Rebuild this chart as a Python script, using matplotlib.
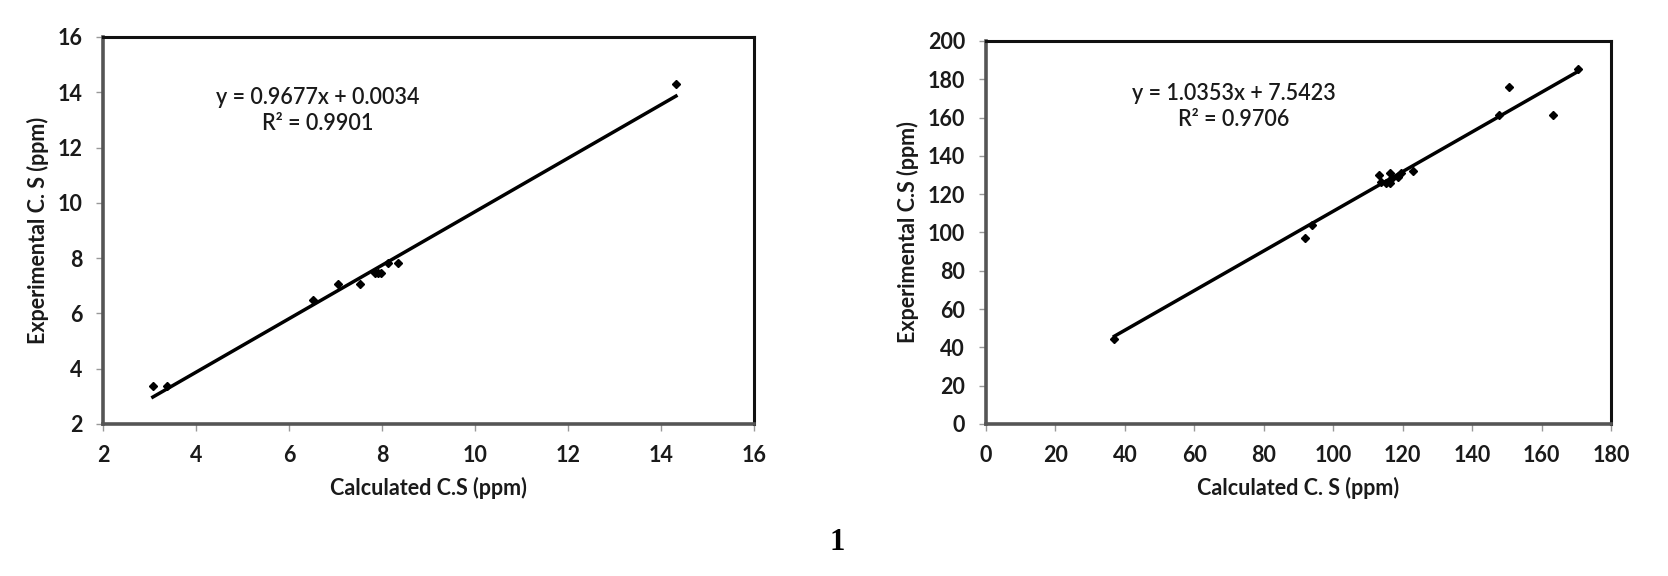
#!/usr/bin/env python3

import numpy as np
import matplotlib.pyplot as plt

# left panel: calculated vs experimental chemical shift
left_calc = [3.07, 3.37, 6.52, 7.05, 7.52, 7.84, 7.92, 7.98, 8.12, 8.35, 14.32]
left_exp = [3.38, 3.38, 6.49, 7.07, 7.07, 7.47, 7.47, 7.47, 7.81, 7.81, 14.31]
left_fit = (0.9677, 0.0034)
left_eq = "y = 0.9677x + 0.0034"
left_r2 = "R² = 0.9901"

# right panel
right_calc = [37.0, 91.8, 93.9, 113.2, 113.8, 115.3, 116.3, 116.5, 117.0,
              118.8, 119.6, 123.0, 147.8, 150.7, 163.4, 170.5]
right_exp = [44.5, 97.3, 104.0, 129.8, 126.3, 125.8, 131.3, 125.6, 128.5,
             129.2, 131.0, 132.3, 161.5, 176.0, 161.3, 185.3]
right_fit = (1.0353, 7.5423)
right_eq = "y = 1.0353x + 7.5423"
right_r2 = "R² = 0.9706"

plt.rcParams['font.family'] = ['Lato', 'DejaVu Sans']


def panel(ax, xs, ys, fit, eq, r2, xlim, ylim, step_x, step_y, xlabel, ylabel, txt_pos):
    xs = np.array(xs)
    ys = np.array(ys)
    line_x = np.array([xs.min(), xs.max()])
    ax.plot(line_x, fit[0] * line_x + fit[1], color='black', lw=2.5)
    ax.plot(xs, ys, 'D', color='black', ms=4.5, ls='none')
    ax.set_xlim(*xlim)
    ax.set_ylim(*ylim)
    ax.set_xticks(np.arange(xlim[0], xlim[1] + 0.1, step_x))
    ax.set_yticks(np.arange(ylim[0], ylim[1] + 0.1, step_y))
    ax.tick_params(direction='out', length=5, width=1, color='#999999',
                   labelsize=15.5, pad=10)
    for lab in ax.get_xticklabels() + ax.get_yticklabels():
        lab.set_fontweight('bold')
        lab.set_color('#1a1a1a')
    for side in ['top', 'right']:
        ax.spines[side].set_linewidth(2.2)
        ax.spines[side].set_color('#111111')
    for side in ['left', 'bottom']:
        ax.spines[side].set_linewidth(2.6)
        ax.spines[side].set_color('#555555')
    ax.set_xlabel(xlabel, fontsize=15.5, fontweight='bold', color='#1a1a1a', labelpad=8)
    ax.set_ylabel(ylabel, fontsize=15.5, fontweight='bold', color='#1a1a1a', labelpad=6)
    ax.text(txt_pos[0], txt_pos[1], eq + "\n" + r2, transform=ax.transAxes,
            ha='center', va='center', fontsize=15.5, fontweight='semibold',
            color='#1a1a1a', linespacing=1.3)


fig = plt.figure(figsize=(16.68, 5.76), dpi=100)
ax1 = fig.add_axes([0.0618, 0.2639, 0.3903, 0.672])
ax2 = fig.add_axes([0.5911, 0.2639, 0.3747, 0.665])

panel(ax1, left_calc, left_exp, left_fit, left_eq, left_r2, (2, 16), (2, 16), 2, 2,
      "Calculated C.S (ppm)", "Experimental C. S (ppm)", (0.33, 0.81))
panel(ax2, right_calc, right_exp, right_fit, right_eq, right_r2, (0, 180), (0, 200), 20, 20,
      "Calculated C. S (ppm)", "Experimental C.S (ppm)", (0.397, 0.83))

fig.text(0.502, 0.058, "1", fontsize=22, fontweight='bold', family='Liberation Serif',
         ha='center', va='center')

fig.savefig('out.png', dpi=100)
